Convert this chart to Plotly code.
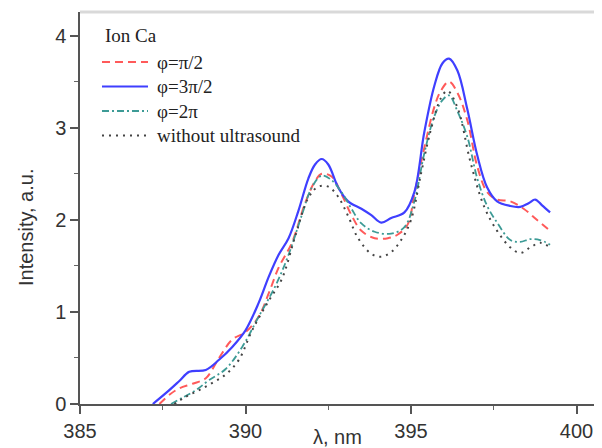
import plotly.graph_objects as go

# φ = 3π/2
wl_blue = [387.20, 387.60, 388.00, 388.30, 388.80, 389.20, 389.60, 390.00, 390.40, 390.70,
           391.00, 391.30, 391.60, 391.90, 392.10, 392.30, 392.50, 392.80, 393.10, 393.50,
           393.80, 394.10, 394.40, 394.80, 395.10, 395.40, 395.70, 395.95, 396.15, 396.40,
           396.70, 397.00, 397.30, 397.60, 398.00, 398.30, 398.55, 398.75, 398.95, 399.20]
int_blue = [0.00, 0.12, 0.25, 0.35, 0.37, 0.48, 0.62, 0.80, 1.10, 1.38,
            1.62, 1.80, 2.10, 2.45, 2.60, 2.66, 2.60, 2.35, 2.20, 2.12,
            2.05, 1.97, 2.02, 2.08, 2.30, 2.95, 3.45, 3.70, 3.75, 3.62,
            3.20, 2.70, 2.35, 2.20, 2.15, 2.14, 2.18, 2.22, 2.16, 2.08]

# φ = π/2
wl_red = [387.40, 387.70, 388.00, 388.40, 388.80, 389.20, 389.60, 390.00, 390.40, 390.70,
          391.00, 391.40, 391.80, 392.10, 392.30, 392.60, 392.90, 393.20, 393.50, 393.90,
          394.30, 394.60, 394.90, 395.10, 395.40, 395.70, 395.90, 396.15, 396.40, 396.70,
          397.00, 397.30, 397.60, 398.00, 398.40, 398.80, 399.20]
int_red = [0.00, 0.10, 0.17, 0.22, 0.28, 0.50, 0.70, 0.78, 0.95, 1.20,
           1.48, 1.75, 2.18, 2.42, 2.50, 2.47, 2.28, 2.05, 1.88, 1.80,
           1.80, 1.84, 1.95, 2.28, 2.78, 3.22, 3.40, 3.50, 3.38, 3.08,
           2.58, 2.30, 2.22, 2.20, 2.12, 2.00, 1.88]

# φ = 2π
wl_teal = [387.75, 388.10, 388.50, 388.90, 389.40, 389.90, 390.40, 390.90, 391.30, 391.70,
           392.00, 392.30, 392.60, 392.90, 393.20, 393.50, 393.90, 394.40, 394.80, 395.10,
           395.40, 395.70, 395.95, 396.15, 396.40, 396.70, 397.00, 397.30, 397.60, 398.00,
           398.30, 398.60, 398.90, 399.20]
int_teal = [0.00, 0.07, 0.15, 0.26, 0.38, 0.62, 0.95, 1.28, 1.62, 2.05,
            2.35, 2.48, 2.43, 2.30, 2.12, 1.96, 1.87, 1.85, 1.92, 2.20,
            2.72, 3.12, 3.30, 3.35, 3.18, 2.90, 2.45, 2.15, 1.97, 1.78,
            1.76, 1.79, 1.78, 1.73]

# without ultrasound
wl_ref = [387.85, 388.20, 388.60, 389.00, 389.40, 389.80, 390.20, 390.70, 391.10, 391.50,
          391.90, 392.20, 392.50, 392.80, 393.10, 393.40, 393.80, 394.10, 394.40, 394.70,
          395.00, 395.30, 395.60, 395.90, 396.10, 396.40, 396.80, 397.20, 397.60, 398.00,
          398.30, 398.60, 398.90, 399.20]
int_ref = [0.00, 0.08, 0.15, 0.23, 0.32, 0.48, 0.80, 1.12, 1.36, 1.82,
           2.24, 2.36, 2.36, 2.25, 2.04, 1.80, 1.63, 1.60, 1.65, 1.78,
           2.00, 2.50, 2.98, 3.32, 3.40, 3.22, 2.62, 2.15, 1.88, 1.70,
           1.64, 1.70, 1.75, 1.70]

x_ticks = [385, 390, 395, 400]
y_ticks = [0, 1, 2, 3, 4]

series = [
    ("φ=π/2", wl_red, int_red, dict(color="#ff5a5a", width=2, dash="8px,5px")),
    ("φ=3π/2", wl_blue, int_blue, dict(color="#3f3fff", width=2.2, dash="solid")),
    ("φ=2π", wl_teal, int_teal, dict(color="#3d9b96", width=1.8, dash="7px,3px,2px,3px")),
    ("without ultrasound", wl_ref, int_ref, dict(color="#444444", width=2, dash="2px,5px")),
]

fig = go.Figure()
for name, xs, ys, ln in series:
    fig.add_scatter(x=xs, y=ys, name=name, mode="lines", showlegend=False,
                    line=dict(shape="spline", **ln))

axis_common = dict(showline=True, linecolor="#555555", linewidth=1.5, ticks="outside",
                   ticklen=8, tickwidth=1.5, tickcolor="#555555", showgrid=False,
                   zeroline=False, tickfont=dict(family="Liberation Sans", size=20, color="#333333"),
                   minor=dict(ticks="outside", ticklen=4, tickwidth=1.2, tickcolor="#666666"))
fig.update_xaxes(range=[385, 401.01], tickvals=x_ticks, **axis_common)
fig.update_xaxes(minor_dtick=2.5)
fig.update_yaxes(range=[0, 4.256], tickvals=y_ticks, **axis_common)
fig.update_yaxes(minor_dtick=0.5)

# light frame line along the top
fig.add_shape(type="line", xref="paper", yref="paper", x0=0, x1=1, y0=1, y1=1,
              line=dict(color="#d9d9d9", width=3))

# legend drawn by hand so the row spacing matches the original
serif = dict(family="Liberation Serif", size=19, color="#222222")
fig.add_annotation(text="Ion Ca", xref="paper", yref="paper", x=0.0434, y=0.9413,
                   xanchor="left", yanchor="middle", showarrow=False, font=serif)
leg_y = [0.8724, 0.8099, 0.7474, 0.6849]
for (name, _, _, ln), yy in zip(series, leg_y):
    fig.add_shape(type="line", xref="paper", yref="paper", x0=0.0415, x1=0.1283, y0=yy, y1=yy,
                  line=dict(color=ln["color"], width=ln["width"], dash=ln["dash"]))
    fig.add_annotation(text=name, xref="paper", yref="paper", x=0.1415, y=yy,
                       xanchor="left", yanchor="middle", showarrow=False, font=serif)

fig.add_annotation(text="Intensity, a.u.", xref="paper", yref="paper", x=-0.1019, y=0.4515,
                   xanchor="center", yanchor="middle", textangle=-90, showarrow=False,
                   font=dict(family="Liberation Sans", size=20, color="#333333"))
fig.add_annotation(text="λ, nm", xref="paper", yref="paper", x=0.485, y=-0.084,
                   xanchor="center", yanchor="middle", showarrow=False,
                   font=dict(family="Liberation Sans", size=20, color="#333333"))

# the page body adds an 8px offset, so margins are shifted to compensate
fig.update_layout(
    width=602, height=448,
    margin=dict(l=72, r=0, t=4, b=52, autoexpand=False),
    paper_bgcolor="white", plot_bgcolor="white",
    showlegend=False,
)

fig.write_html("out.html")
